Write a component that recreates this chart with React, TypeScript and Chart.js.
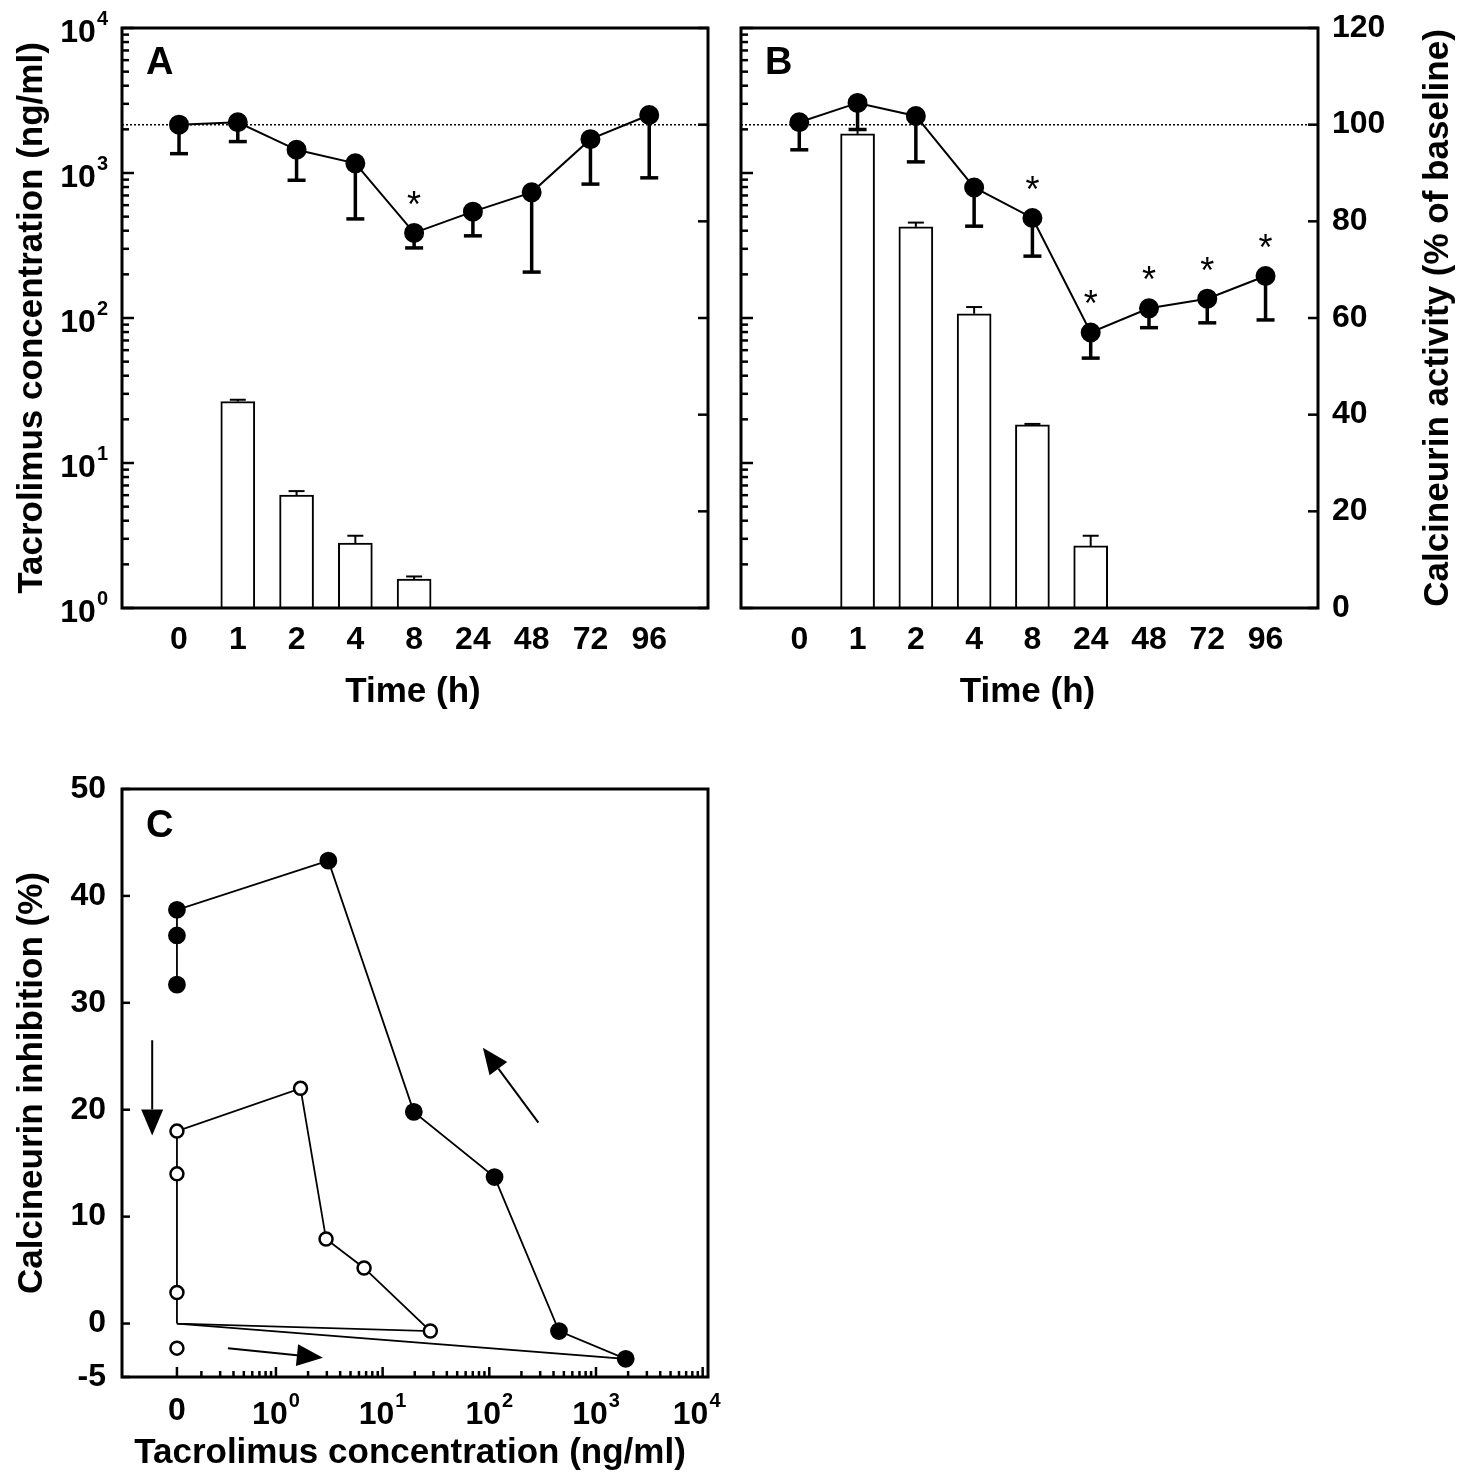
import React, { useEffect, useRef } from 'react';
import Chart from 'chart.js/auto';

const times = ['0', '1', '2', '4', '8', '24', '48', '72', '96'];

// panel A (tacrolimus 1)
const barsA = [null, 26.5, 6.0, 2.8, 1.58, null, null, null, null];
const barErrA = [null, 27.3, 6.4, 3.15, 1.65, null, null, null, null];
const actA = [100, 100.5, 94.8, 92, 77.6, 82, 86, 97, 102];
const actLowA = [94, 96.5, 88.5, 80.5, 74.5, 77, 69.5, 87.7, 89];
const starA = [false, false, false, false, true, false, false, false, false];

// panel B
const barsB = [null, 1860, 425, 107, 18.3, 2.68, null, null, null];
const barErrB = [null, 2000, 455, 119, 18.6, 3.15, null, null, null];
const actB = [100.5, 104.5, 101.8, 87, 80.7, 57, 62, 64, 68.7];
const actLowB = [94.8, 99, 92.3, 79, 72.8, 51.7, 58, 59, 59.6];
const starB = [false, false, false, false, true, true, true, true, true];

// panel C: concentration (0 = zero) vs inhibition
const filledConc = [0, 1900, 450, 112, 19.6, 3.1, 0, 0, 0];
const filledInh = [0, -3.3, -0.7, 13.7, 19.8, 43.3, 38.7, 36.3, 31.7];
const filledMark = [false, true, true, true, true, true, true, true, true];
const openConc = [0, 28, 6.7, 2.95, 1.7, 0, 0, 0, 0];
const openInh = [0, -0.7, 5.2, 7.9, 22, 18, 14, 2.9, 0];
const openMark = [false, true, true, true, true, true, true, true, false];
const openExtraConc = [0];
const openExtraInh = [-2.3];

const ZERO_POS = -0.928;
const toPos = (c: number) => (c === 0 ? ZERO_POS : Math.log10(c));

const FONT = '"Liberation Sans", Arial, sans-serif';
const TICK = 32;
const TITLE = 35;

function drawPow(ctx: CanvasRenderingContext2D, x: number, y: number, exp: number, align: 'right' | 'center') {
  ctx.font = `bold ${TICK}px ${FONT}`;
  const wb = ctx.measureText('10').width;
  ctx.font = `bold 20px ${FONT}`;
  const we = ctx.measureText(String(exp)).width;
  const total = wb + we + 1;
  const x0 = align === 'right' ? x - total : x - total / 2;
  ctx.textAlign = 'left';
  ctx.textBaseline = 'middle';
  ctx.font = `bold ${TICK}px ${FONT}`;
  ctx.fillText('10', x0, y);
  ctx.font = `bold 20px ${FONT}`;
  ctx.fillText(String(exp), x0 + wb + 1, y - 14);
}

function text(ctx: CanvasRenderingContext2D, s: string, x: number, y: number, size: number, align: CanvasTextAlign, rot = 0, bold = true) {
  ctx.save();
  ctx.translate(x, y);
  ctx.rotate(rot);
  ctx.font = `${bold ? 'bold ' : ''}${size}px ${FONT}`;
  ctx.textAlign = align;
  ctx.textBaseline = 'middle';
  ctx.fillStyle = '#000';
  ctx.fillText(s, 0, 0);
  ctx.restore();
}

function frame(ctx: CanvasRenderingContext2D, a: any) {
  ctx.save();
  ctx.strokeStyle = '#000';
  ctx.lineWidth = 3;
  ctx.strokeRect(a.left, a.top, a.right - a.left, a.bottom - a.top);
  ctx.restore();
}

function tick(ctx: CanvasRenderingContext2D, x1: number, y1: number, x2: number, y2: number) {
  ctx.beginPath();
  ctx.moveTo(x1, y1);
  ctx.lineTo(x2, y2);
  ctx.stroke();
}

function timePanel(canvas: HTMLCanvasElement, opts: any) {
  const { bars, barErr, act, actLow, star, xmin, xmax, pad, letter, leftLabels, rightLabels } = opts;
  const plugin = {
    id: 'panel' + letter,
    afterDatasetsDraw(chart: any) {
      const ctx = chart.ctx as CanvasRenderingContext2D;
      const x = chart.scales.x, y = chart.scales.y, y2 = chart.scales.y2;
      const a = chart.chartArea;
      ctx.save();
      ctx.strokeStyle = '#000';
      ctx.fillStyle = '#000';
      // dotted baseline
      ctx.lineWidth = 1.5;
      ctx.setLineDash([2, 2]);
      tick(ctx, a.left, y2.getPixelForValue(100), a.right, y2.getPixelForValue(100));
      ctx.setLineDash([]);
      // bar errors
      ctx.lineWidth = 2;
      bars.forEach((v: number | null, i: number) => {
        if (v == null) return;
        const px = x.getPixelForValue(i);
        const top = y.getPixelForValue(v), e = y.getPixelForValue(barErr[i]);
        tick(ctx, px, top, px, e);
        tick(ctx, px - 8, e, px + 8, e);
      });
      // activity errors
      ctx.lineWidth = 3.5;
      act.forEach((v: number, i: number) => {
        const px = x.getPixelForValue(i);
        const lo = y2.getPixelForValue(actLow[i]);
        tick(ctx, px, y2.getPixelForValue(v), px, lo);
        tick(ctx, px - 9, lo, px + 9, lo);
        if (star[i]) text(ctx, '*', px, y2.getPixelForValue(v) - 26, 36, 'center', 0, false);
      });
      ctx.restore();
    },
    afterDraw(chart: any) {
      const ctx = chart.ctx as CanvasRenderingContext2D;
      const x = chart.scales.x, y = chart.scales.y, y2 = chart.scales.y2;
      const a = chart.chartArea;
      frame(ctx, a);
      ctx.save();
      ctx.strokeStyle = '#000';
      ctx.fillStyle = '#000';
      ctx.lineWidth = 2.5;
      for (let d = 0; d <= 4; d++) {
        const py = y.getPixelForValue(Math.pow(10, d));
        tick(ctx, a.left, py, a.left + 12, py);
        if (leftLabels) drawPow(ctx, a.left - 14, py + 5, d, 'right');
        if (d < 4) {
          for (let m = 2; m <= 9; m++) {
            const pm = y.getPixelForValue(m * Math.pow(10, d));
            tick(ctx, a.left, pm, a.left + 7, pm);
          }
        }
      }
      for (let v = 0; v <= 120; v += 20) {
        const py = y2.getPixelForValue(v);
        tick(ctx, a.right, py, a.right - 10, py);
        if (rightLabels) text(ctx, String(v), a.right + 14, py, TICK, 'left');
      }
      times.forEach((t, i) => text(ctx, t, x.getPixelForValue(i), a.bottom + 32, TICK, 'center'));
      text(ctx, 'Time (h)', (a.left + a.right) / 2 - 2, a.bottom + 84, TITLE, 'center');
      text(ctx, letter, a.left + 24, a.top + 36, 38, 'left');
      if (leftLabels) text(ctx, 'Tacrolimus concentration (ng/ml)', 32, (a.top + a.bottom) / 2, TITLE, 'center', -Math.PI / 2);
      if (rightLabels) text(ctx, 'Calcineurin activity (% of baseline)', a.right + 120, (a.top + a.bottom) / 2, TITLE, 'center', -Math.PI / 2);
      ctx.restore();
    },
  };
  return new Chart(canvas, {
    type: 'bar',
    data: {
      datasets: [
        {
          type: 'line',
          data: act.map((v: number, i: number) => ({ x: i, y: v })),
          yAxisID: 'y2',
          borderColor: '#000',
          borderWidth: 2,
          pointRadius: 9,
          pointBackgroundColor: '#000',
          pointBorderColor: '#000',
          order: 0,
        } as any,
        {
          type: 'bar',
          data: bars.map((v: number | null, i: number) => (v == null ? null : { x: i, y: v })).filter(Boolean),
          yAxisID: 'y',
          backgroundColor: '#fff',
          borderColor: '#000',
          borderWidth: 2,
          barThickness: 34,
          order: 1,
        },
      ],
    },
    options: {
      responsive: false,
      animation: false,
      layout: { padding: pad },
      plugins: { legend: { display: false }, tooltip: { enabled: false } },
      scales: {
        x: { type: 'linear', min: xmin, max: xmax, offset: false, display: false },
        y: { type: 'logarithmic', min: 1, max: 10000, display: false },
        y2: { type: 'linear', min: 0, max: 120, display: false },
      },
    } as any,
    plugins: [plugin],
  });
}

function panelC(canvas: HTMLCanvasElement) {
  const arrows = [
    [-1.16, 26.5, -1.16, 17.6],
    [-0.45, -2.3, 0.44, -3.2],
    [2.46, 18.8, 1.94, 25.8],
  ];
  const plugin = {
    id: 'panelC',
    afterDraw(chart: any) {
      const ctx = chart.ctx as CanvasRenderingContext2D;
      const x = chart.scales.x, y = chart.scales.y;
      const a = chart.chartArea;
      frame(ctx, a);
      ctx.save();
      ctx.strokeStyle = '#000';
      ctx.fillStyle = '#000';
      ctx.lineWidth = 2.5;
      [-5, 0, 10, 20, 30, 40, 50].forEach(v => {
        const py = y.getPixelForValue(v);
        tick(ctx, a.left, py, a.left + 8, py);
        text(ctx, String(v), a.left - 16, py, TICK, 'right');
      });
      const pz = x.getPixelForValue(ZERO_POS);
      tick(ctx, pz, a.bottom, pz, a.bottom - 10);
      text(ctx, '0', pz, a.bottom + 34, TICK, 'center');
      for (let d = -1; d <= 4; d++) {
        if (d >= 0) {
          const px = x.getPixelForValue(d);
          tick(ctx, px, a.bottom, px, a.bottom - 10);
          drawPow(ctx, px + (d === 4 ? -6 : 0), a.bottom + 38, d, 'center');
        }
        if (d < 4) {
          for (let m = 2; m <= 9; m++) {
            const p = Math.log10(m) + d;
            if (p < -0.75) continue;
            const px = x.getPixelForValue(p);
            tick(ctx, px, a.bottom, px, a.bottom - 6);
          }
        }
      }
      // arrows
      ctx.lineWidth = 2;
      arrows.forEach(([x1, y1, x2, y2]) => {
        const p1x = x.getPixelForValue(x1), p1y = y.getPixelForValue(y1);
        const p2x = x.getPixelForValue(x2), p2y = y.getPixelForValue(y2);
        const ang = Math.atan2(p2y - p1y, p2x - p1x);
        const L = 26, W = 11;
        const bx = p2x - L * Math.cos(ang), by = p2y - L * Math.sin(ang);
        tick(ctx, p1x, p1y, bx, by);
        ctx.beginPath();
        ctx.moveTo(p2x, p2y);
        ctx.lineTo(bx + W * Math.sin(ang), by - W * Math.cos(ang));
        ctx.lineTo(bx - W * Math.sin(ang), by + W * Math.cos(ang));
        ctx.closePath();
        ctx.fill();
      });
      text(ctx, 'C', a.left + 24, a.top + 38, 38, 'left');
      text(ctx, 'Calcineurin inhibition (%)', 32, (a.top + a.bottom) / 2, TITLE, 'center', -Math.PI / 2);
      text(ctx, 'Tacrolimus concentration (ng/ml)', (a.left + a.right) / 2 - 5, a.bottom + 76, TITLE, 'center');
      ctx.restore();
    },
  };
  return new Chart(canvas, {
    type: 'line',
    data: {
      datasets: [
        {
          data: filledConc.map((c, i) => ({ x: toPos(c), y: filledInh[i] })),
          borderColor: '#000',
          borderWidth: 1.8,
          pointRadius: filledMark.map(m => (m ? 8 : 0)),
          pointBackgroundColor: '#000',
          pointBorderColor: '#000',
        },
        {
          data: openConc.map((c, i) => ({ x: toPos(c), y: openInh[i] })),
          borderColor: '#000',
          borderWidth: 1.8,
          pointRadius: openMark.map(m => (m ? 6.5 : 0)),
          pointBackgroundColor: '#fff',
          pointBorderColor: '#000',
          pointBorderWidth: 2.5,
        },
        {
          data: openExtraConc.map((c, i) => ({ x: toPos(c), y: openExtraInh[i] })),
          showLine: false,
          pointRadius: 6.5,
          pointBackgroundColor: '#fff',
          pointBorderColor: '#000',
          pointBorderWidth: 2.5,
        },
      ],
    },
    options: {
      responsive: false,
      animation: false,
      layout: { padding: { left: 122, right: 32, top: 49, bottom: 96 } },
      plugins: { legend: { display: false }, tooltip: { enabled: false } },
      scales: {
        x: { type: 'linear', min: -1.443, max: 4.05, display: false },
        y: { type: 'linear', min: -5, max: 50, display: false },
      },
    } as any,
    plugins: [plugin],
  });
}

export default function App() {
  const refA = useRef<HTMLCanvasElement>(null);
  const refB = useRef<HTMLCanvasElement>(null);
  const refC = useRef<HTMLCanvasElement>(null);

  useEffect(() => {
    if (!refA.current || !refB.current || !refC.current) return;
    const charts = [
      timePanel(refA.current, {
        bars: barsA, barErr: barErrA, act: actA, actLow: actLowA, star: starA,
        xmin: -0.97, xmax: 9.0, pad: { left: 122, right: 22, top: 28, bottom: 122 },
        letter: 'A', leftLabels: true, rightLabels: false,
      }),
      timePanel(refB.current, {
        bars: barsB, barErr: barErrB, act: actB, actLow: actLowB, star: starB,
        xmin: -1.0, xmax: 8.9, pad: { left: 8, right: 151, top: 28, bottom: 122 },
        letter: 'B', leftLabels: false, rightLabels: true,
      }),
      panelC(refC.current),
    ];
    return () => charts.forEach(c => c.destroy());
  }, []);

  return (
    <div style={{ position: 'absolute', left: 0, top: 0, width: 1469, height: 1473, overflow: 'hidden', background: '#fff' }}>
      <canvas ref={refA} width={730} height={730} style={{ position: 'absolute', left: 0, top: 0 }} />
      <canvas ref={refB} width={739} height={730} style={{ position: 'absolute', left: 730, top: 0 }} />
      <canvas ref={refC} width={740} height={733} style={{ position: 'absolute', left: 0, top: 740 }} />
    </div>
  );
}
